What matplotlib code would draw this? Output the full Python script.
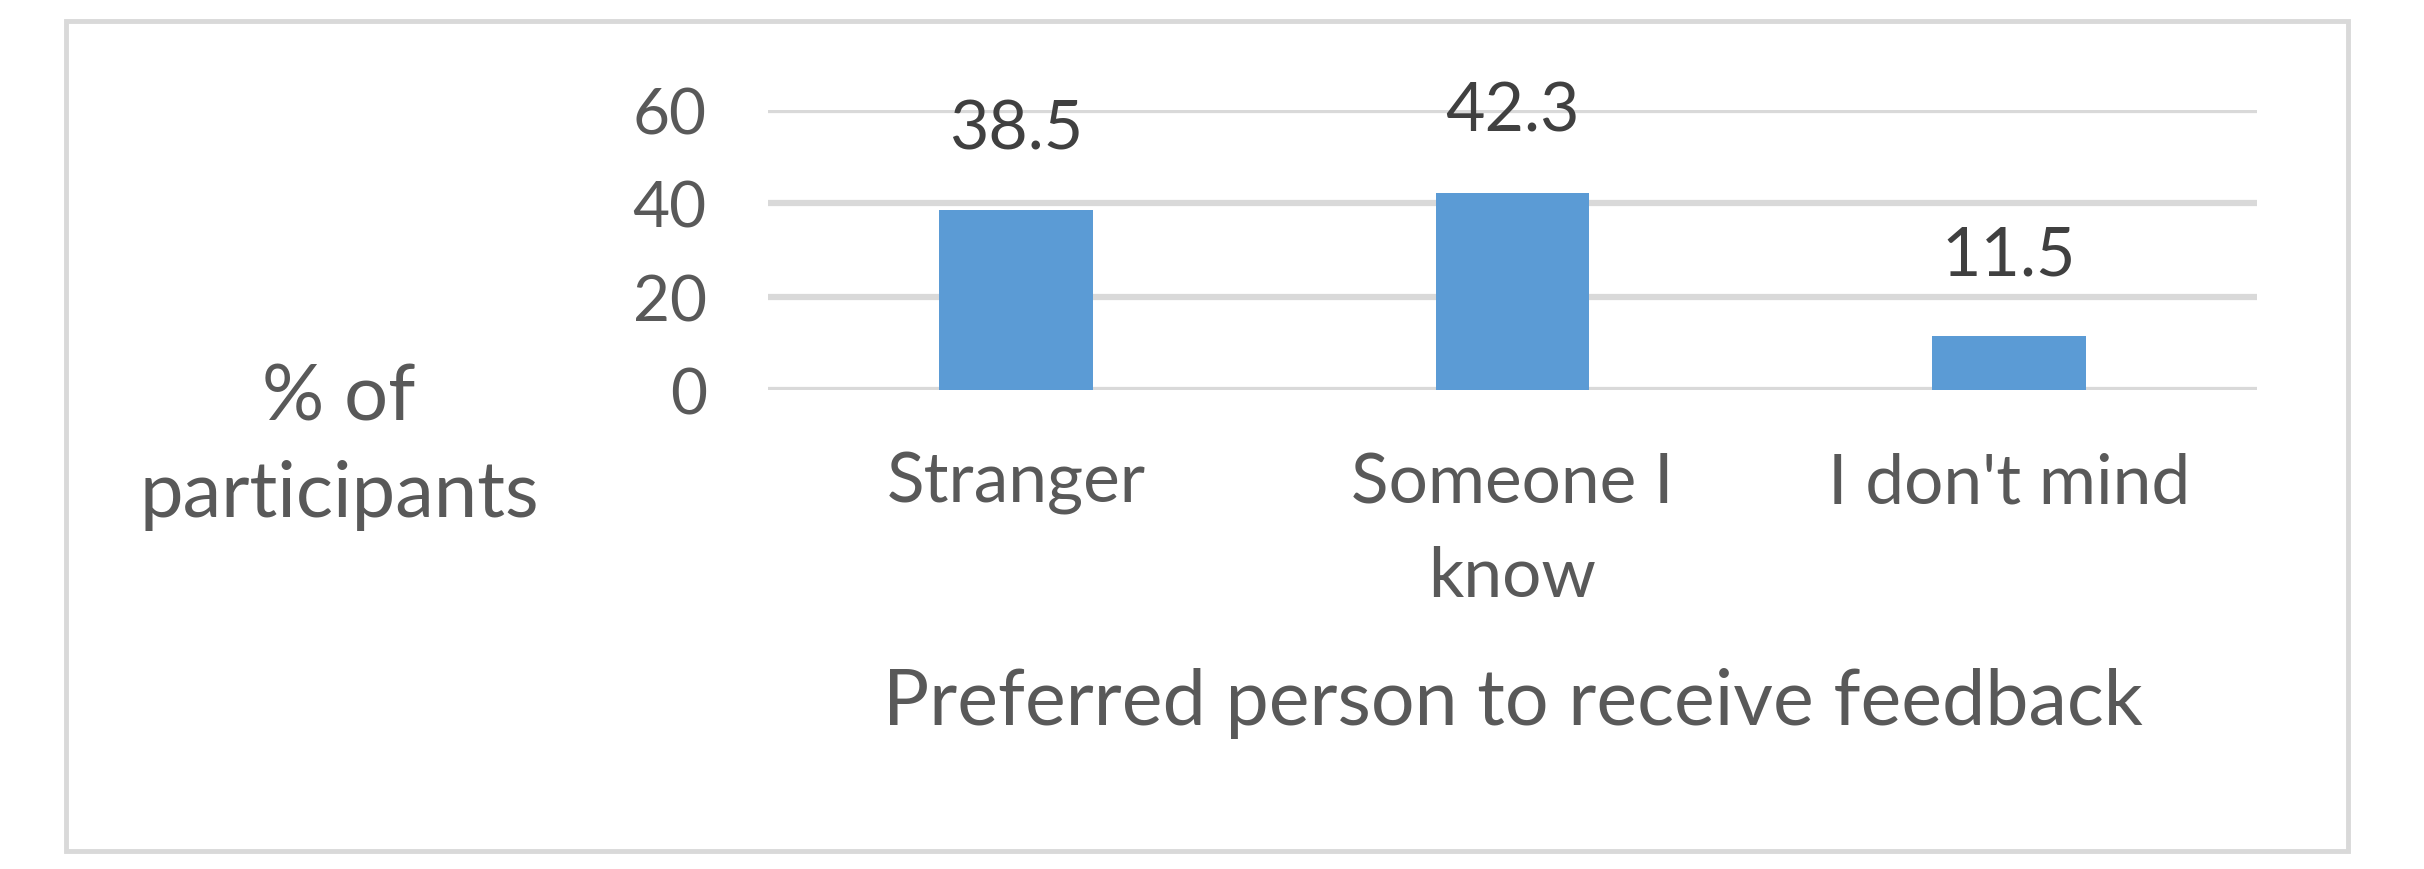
import matplotlib
matplotlib.use('Agg')
import matplotlib.pyplot as plt
from matplotlib.patches import Rectangle

categories = ['Stranger', 'Someone I\nknow', "I don't mind"]
values = [38.5, 42.3, 11.5]
yticks = [0, 20, 40, 60]

BAR = '#5B9BD5'
GRID = '#D9D9D9'
TEXT = '#595959'
LABEL = '#404040'

plt.rcParams['font.family'] = ['Lato', 'DejaVu Sans']

fig = plt.figure(figsize=(24.24, 8.7), dpi=100)
ax = fig.add_axes([0.3168, 0.5506, 0.6143, 0.3218])

x = range(len(categories))
bars = ax.bar(x, values, width=0.31, color=BAR, zorder=3)
ax.bar_label(bars, labels=['%.1f' % v for v in values], padding=36,
	fontsize=49, color=LABEL)

ax.set_xlim(-0.5, len(categories) - 0.5)
ax.set_ylim(0, 60)
ax.set_yticks(yticks)
ax.set_yticklabels([str(t) for t in yticks], fontsize=46, color=TEXT)
ax.set_xticks(list(x))
ax.set_xticklabels(categories, fontsize=50, color=TEXT, linespacing=1.6)
ax.tick_params(axis='y', length=0, pad=44)
ax.tick_params(axis='x', length=0, pad=44)

ax.grid(axis='y', color=GRID, linewidth=4.5, zorder=0)
for s in ax.spines.values():
	s.set_visible(False)

ax.set_xlabel('Preferred person to receive feedback', fontsize=55.5, color=TEXT)
ax.xaxis.set_label_coords(0.5, -0.99)
ax.set_ylabel('% of\nparticipants', fontsize=56, color=TEXT, rotation=0,
	ha='center', va='center', linespacing=1.45)
ax.yaxis.set_label_coords(-0.288, -0.2)

# outer chart frame
fig.patches.append(Rectangle((66 / 2424, 1 - 852 / 870), (2348 - 66) / 2424,
	(852 - 22) / 870, transform=fig.transFigure, fill=False,
	edgecolor=GRID, linewidth=3.5))

fig.savefig('out.png', dpi=100)
